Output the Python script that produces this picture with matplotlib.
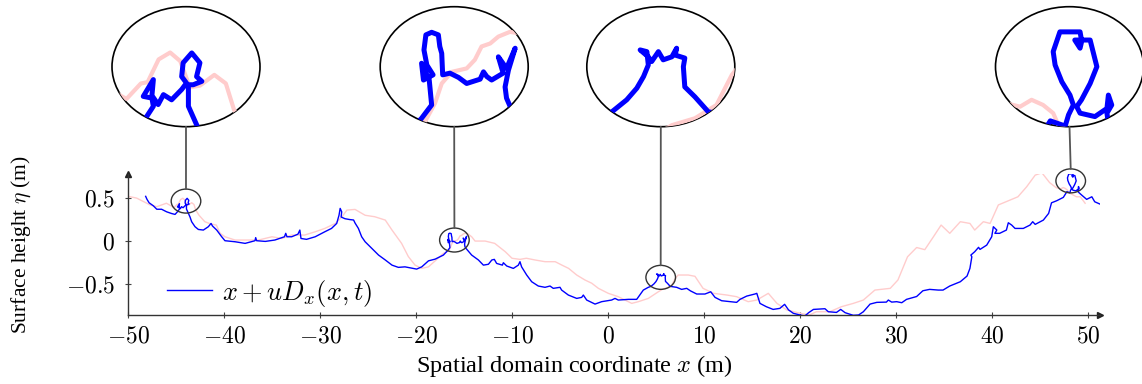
import numpy as np
import matplotlib
matplotlib.use("Agg")
import matplotlib.pyplot as plt
from matplotlib.patches import Ellipse, ConnectionPatch
from matplotlib.ticker import FuncFormatter

plt.rcParams['font.family'] = 'serif'
plt.rcParams['font.serif'] = ['Liberation Serif', 'DejaVu Serif']
plt.rcParams['mathtext.fontset'] = 'cm'

# original surface eta(x) (light red)
eta_x = [-50.0, -49.1, -48.4, -47.7, -47.0, -46.0, -45.2, -44.9, -44.76, -44.53, -44.29, -44.08,
         -43.88, -43.67, -43.37, -43.13, -42.96, -42.6, -42.0, -41.4, -40.8, -40.4, -39.9, -38.85,
         -37.8, -36.4, -35.0, -34.0, -32.95, -31.6, -30.5, -29.5, -28.4, -27.7, -27.2, -26.35,
         -25.3, -24.3, -23.2, -22.5, -22.0, -21.5, -20.8, -20.1, -19.4, -18.7, -17.7, -17.15,
         -16.61, -16.40, -16.26, -16.05, -15.74, -15.57, -15.43, -15.25, -15.08, -14.84, -14.66,
         -14.2, -13.85, -12.8, -11.8, -10.7, -10.0, -9.17, -8.5, -7.6, -6.56, -5.5, -4.8, -4.1,
         -3.26, -2.4, -1.7, -1.0, 0.03, 1.07, 1.77, 2.47, 3.16, 4.2, 5.24, 5.72, 6.20, 6.65, 6.97,
         7.3, 8.36, 9.06, 9.9, 11.0, 12.4, 13.4, 14.6, 15.5, 16.7, 17.6, 18.6, 20.0, 21.0, 21.7,
         23.1, 24.3, 25.55, 26.6, 27.8, 29.4, 30.2, 31.2, 32.15, 33.0, 33.9, 34.7, 35.6, 36.7,
         37.7, 38.2, 39.1, 39.8, 40.66, 41.9, 42.7, 43.6, 44.5, 45.2, 46.0, 46.7, 47.17, 47.41,
         47.65, 47.86, 47.97, 48.8, 49.2, 49.7]
eta_y = [0.52, 0.50, 0.46, 0.42, 0.40, 0.44, 0.39, 0.426, 0.429, 0.482, 0.498, 0.478,
         0.417, 0.421, 0.446, 0.426, 0.365, 0.30, 0.225, 0.20, 0.186, 0.09, 0.05, 0.012,
         0.012, 0.012, 0.05, 0.03, 0.07, 0.07, 0.108, 0.147, 0.205, 0.283, 0.36, 0.368,
         0.30, 0.283, 0.244, 0.128, 0.05, -0.027, -0.18, -0.28, -0.318, -0.30, -0.2, -0.143,
         -0.116, -0.073, -0.027, 0.0, 0.008, 0.028, 0.059, 0.066, 0.082, 0.093, 0.090,
         0.05, 0.0, 0.0, -0.027, -0.124, -0.20, -0.213, -0.20, -0.22, -0.24, -0.24, -0.28, -0.318,
         -0.395, -0.453, -0.49, -0.55, -0.608, -0.647, -0.686, -0.725, -0.705, -0.667, -0.59, -0.558,
         -0.542, -0.511, -0.441, -0.395, -0.395, -0.41, -0.55, -0.608, -0.628, -0.647, -0.705,
         -0.686, -0.608, -0.725, -0.80, -0.84, -0.86, -0.822, -0.822, -0.764, -0.725, -0.686,
         -0.57, -0.55, -0.453, -0.183, -0.075, -0.10, 0.05, 0.186, 0.09, 0.225, 0.205, 0.128,
         0.225, 0.205, 0.42, 0.477, 0.515, 0.63, 0.767, 0.794, 0.68, 0.62, 0.607, 0.623, 0.611,
         0.592, 0.564, 0.515, 0.515, 0.44]

# displaced surface x + u D_x(x, t) (blue)
disp_x = [-48.16, -48.02, -47.8, -47.36, -47.0, -46.5, -45.97, -45.45, -45.1,
          -44.78, -44.64, -44.67, -44.85, -44.64, -44.67, -44.54, -44.43, -44.26, -44.05, -43.95,
          -44.05, -44.02, -43.84, -43.67, -43.74, -43.63, -43.81, -43.91, -43.91, -43.74,
          -43.54, -43.37, -43.02, -42.67, -42.15, -41.63, -41.35, -41.2, -40.76, -40.24, -39.9,
          -38.85, -37.8, -36.77, -36.7, -36.6, -35.7, -34.7, -33.7, -33.57, -33.44, -32.95, -32.3,
          -32.1, -31.98, -31.4, -30.5, -29.5, -28.8, -28.26, -28.02, -27.9, -27.74, -27.8, -27.4,
          -26.9, -26.5, -26.35, -26.0, -25.66, -25.3, -24.6, -23.9, -23.2, -22.5, -21.84, -21.15,
          -19.93, -19.4, -18.7, -18.0, -17.15,
          -16.68, -16.47, -16.50, -16.52, -16.68, -16.64, -16.44, -16.57, -16.63, -16.59, -16.47,
          -16.33, -16.30, -16.26, -16.24, -16.09, -15.91, -15.74, -15.46, -15.39, -15.32, -15.22,
          -14.98, -15.08, -14.91, -14.73, -14.87, -14.94, -14.91, -14.84,
          -14.2, -13.5, -12.98, -12.46, -12.1, -11.84, -11.6, -11.0, -10.9, -10.55, -9.86, -9.34,
          -9.17, -9.0, -8.47, -7.95, -7.26, -6.56, -6.04, -5.7, -5.0, -4.83, -4.13, -3.26, -2.74,
          -2.57, -2.22, -1.35, -0.66, 0.38, 0.73, 1.07, 2.12, 2.99, 3.68, 4.2,
          4.47, 4.78, 4.99, 5.13, 5.23, 5.20, 5.06, 5.23, 5.30, 5.44, 5.54, 5.72, 5.82, 5.79,
          5.99, 5.96, 5.99, 6.20, 6.48,
          7.15, 7.67, 8.2, 8.6, 9.24, 10.1, 10.7, 11.15, 11.84, 12.7, 13.4, 13.75, 14.45, 15.3,
          15.5, 15.83, 16.5, 17.2, 17.9, 18.4, 18.8, 19.3, 20.0, 20.5, 20.9, 21.4, 22.1, 22.6,
          22.95, 23.8, 24.24, 24.7, 25.55, 26.1, 26.6, 27.3, 28.0, 29.0, 29.2, 29.55, 30.07, 30.6,
          31.1, 32.15, 32.8, 33.5, 34.4, 34.9, 35.6, 36.7, 37.4, 37.7, 37.9, 37.8, 38.2, 38.6,
          38.75, 39.45, 39.97, 40.14, 40.5, 40.3, 40.8, 41.5, 41.7, 42.05, 42.4, 43.26, 43.96,
          44.24, 44.5, 45.35, 45.9, 46.2, 46.74, 47.43, 47.8,
          48.11, 48.18, 48.28, 48.21, 48.04, 47.90, 47.86, 48.00, 48.42, 48.45, 48.31, 48.42,
          48.46, 48.63, 48.77, 48.63, 48.45, 48.35, 48.42, 48.73, 48.98, 49.01, 49.08, 48.98, 49.01,
          49.34, 49.86, 50.4, 50.7, 51.25]
disp_y = [0.52, 0.485, 0.445, 0.41, 0.37, 0.37, 0.34, 0.32, 0.31,
          0.349, 0.373, 0.392, 0.396, 0.435, 0.398, 0.377, 0.400, 0.388, 0.412, 0.427,
          0.442, 0.474, 0.497, 0.474, 0.442, 0.431, 0.423, 0.423, 0.373, 0.330,
          0.28, 0.225, 0.167, 0.135, 0.128, 0.167, 0.205, 0.175, 0.128, 0.05, 0.004,
          -0.008, -0.027, 0.004, 0.04, 0.004, -0.004, 0.012, 0.05, 0.09, 0.05, 0.05, 0.08,
          0.128, 0.03, 0.02, 0.05, 0.108, 0.147, 0.205, 0.30, 0.38, 0.34, 0.28, 0.26,
          0.25, 0.245, 0.21, 0.147, 0.05, -0.008, -0.085, -0.163, -0.22, -0.28, -0.306, -0.30,
          -0.326, -0.30, -0.23, -0.21, -0.163,
          -0.108, -0.077, -0.042, -0.019, 0.020, -0.019, -0.007, 0.016, 0.051, 0.086, 0.092,
          0.086, 0.059, 0.043, -0.007, -0.003, -0.013, -0.027, -0.017, 0.0, -0.011, -0.019,
          -0.003, 0.035, 0.008, 0.055, 0.004, -0.035, -0.061, -0.079,
          -0.163, -0.22, -0.28, -0.27, -0.22, -0.213, -0.26, -0.28, -0.252, -0.29, -0.318, -0.28,
          -0.24, -0.30, -0.395, -0.473, -0.523, -0.538, -0.523, -0.55, -0.538, -0.57, -0.628,
          -0.667, -0.655, -0.628, -0.686, -0.733, -0.705, -0.686, -0.667, -0.686, -0.678, -0.678,
          -0.57, -0.538,
          -0.527, -0.499, -0.472, -0.445, -0.418, -0.387, -0.383, -0.399, -0.410, -0.387, -0.406,
          -0.399, -0.379, -0.395, -0.402, -0.422, -0.469, -0.492, -0.527,
          -0.538, -0.562, -0.55, -0.58, -0.616, -0.616, -0.59, -0.655, -0.694, -0.705, -0.713,
          -0.678, -0.64, -0.616, -0.608, -0.725, -0.764, -0.795, -0.783, -0.736, -0.80, -0.84,
          -0.86, -0.872, -0.833, -0.795, -0.79, -0.787, -0.822, -0.83, -0.795, -0.833, -0.864,
          -0.86, -0.822, -0.733, -0.713, -0.71, -0.686, -0.71, -0.705, -0.717, -0.678, -0.645,
          -0.578, -0.562, -0.57, -0.57, -0.523, -0.473, -0.407, -0.318, -0.183, -0.163, -0.124,
          -0.073, -0.097, -0.047, 0.05, 0.167, 0.128, 0.09, 0.09, 0.128, 0.213, 0.186, 0.147,
          0.147, 0.186, 0.225, 0.194, 0.244, 0.322, 0.445, 0.469, 0.508, 0.574,
          0.562, 0.588, 0.611, 0.634, 0.665, 0.704, 0.735, 0.781, 0.781, 0.762, 0.762, 0.743,
          0.762, 0.762, 0.70, 0.661, 0.623, 0.607, 0.592, 0.584, 0.603, 0.634, 0.611, 0.592, 0.568,
          0.535, 0.485, 0.515, 0.457, 0.43]

# zoomed spots (data centre) and where their insets sit (pixel centre)
spot_x = [-43.96, -16.0, 5.49, 48.2]
spot_y = [0.465, 0.012, -0.422, 0.70]
inset_px = [186, 454.2, 660.8, 1069.5]

W, H = 1142, 384
fig = plt.figure(figsize=(W / 100, H / 100), dpi=100)
ax = fig.add_axes([128 / W, 1 - 315 / H, (1100 - 128) / W, (315 - 174) / H])

pink = '#ffcccc'
blue = '#0000ff'
ax.plot(eta_x, eta_y, color=pink, lw=1.0, zorder=2)
ax.plot(disp_x, disp_y, color=blue, lw=1.0, zorder=3, label=r'$x + uD_x(x,t)$')

ax.set_xlim(-50, 51.25)
ax.set_ylim(-0.86, 0.78)
ax.set_xticks([-50, -40, -30, -20, -10, 0, 10, 20, 30, 40, 50])
ax.set_yticks([-0.5, 0, 0.5])
fmt = FuncFormatter(lambda v, p: '$%g$' % v)
ax.xaxis.set_major_formatter(fmt)
ax.yaxis.set_major_formatter(fmt)
ax.tick_params(direction='inout', length=5, width=0.8, color='#444444', labelsize=17)
ax.tick_params(axis='x', pad=6)
ax.tick_params(axis='y', pad=7)
for s in ['top', 'right']:
    ax.spines[s].set_visible(False)
for s in ['left', 'bottom']:
    ax.spines[s].set_color('#333333')
    ax.spines[s].set_linewidth(1.0)
ax.plot(1, 0, '>', color='#222222', ms=4, transform=ax.transAxes, clip_on=False)
ax.plot(0, 1, '^', color='#222222', ms=4, transform=ax.transAxes, clip_on=False)

ax.legend(loc='center left', bbox_to_anchor=(0.04, 0.156), frameon=False, fontsize=19,
          borderpad=0, borderaxespad=0, handlelength=1.7, handletextpad=0.4)

fig.text(21 / W, 1 - 245 / H, r'Surface height $\eta$ (m)', rotation=90,
         ha='center', va='center', fontsize=15.5)
fig.text(574 / W, 1 - 366 / H, r'Spatial domain coordinate $x$ (m)',
         ha='center', va='center', fontsize=17.5)

mag = 5.0
iw, ih = 148, 120
hx = iw / 2 / (9.6 * mag)
hy = ih / 2 / (86 * mag)
for cx, cy, px in zip(spot_x, spot_y, inset_px):
    ax.add_patch(Ellipse((cx, cy), 2 * hx, 2 * hy, fill=False, ec='#333333', lw=1.0,
                         zorder=4, clip_on=False))
    iax = fig.add_axes([(px - iw / 2) / W, 1 - 126.7 / H, iw / W, ih / H])
    iax.set_xlim(cx - hx, cx + hx)
    iax.set_ylim(cy - hy, cy + hy)
    iax.axis('off')
    clip = Ellipse((0.5, 0.5), 1, 1, transform=iax.transAxes, fc='none', ec='none')
    iax.add_patch(clip)
    l1, = iax.plot(eta_x, eta_y, color=pink, lw=3.0)
    l2, = iax.plot(disp_x, disp_y, color=blue, lw=3.6)
    l1.set_clip_path(clip)
    l2.set_clip_path(clip)
    iax.add_patch(Ellipse((0.5, 0.5), 1, 1, transform=iax.transAxes, fill=False,
                          ec='black', lw=1.2, clip_on=False))
    con = ConnectionPatch(xyA=(0.5, 0), coordsA=iax.transAxes, xyB=(cx, cy + hy),
                          coordsB=ax.transData, color='#555555', lw=1.3)
    fig.add_artist(con)

fig.savefig('out.png', dpi=100)
